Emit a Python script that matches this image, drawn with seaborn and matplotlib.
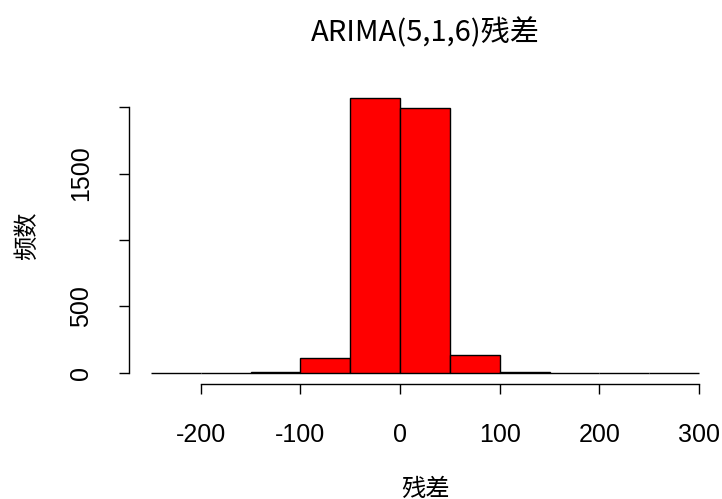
import matplotlib
matplotlib.use("Agg")
import matplotlib.pyplot as plt
import seaborn as sns
import numpy as np
import pandas as pd

bin_edges = [-250, -200, -150, -100, -50, 0, 50, 100, 150, 200, 250, 300]
counts = [1, 1, 6, 112, 2068, 1990, 138, 9, 1, 1, 1]
x_ticks = [-200, -100, 0, 100, 200, 300]
y_ticks = [0, 500, 1000, 1500, 2000]
y_ticklabels = ["0", "500", "", "1500", ""]

sns.set_style("white")
plt.rcParams['font.family'] = ['Liberation Sans', 'Noto Sans CJK SC', 'DejaVu Sans']
plt.rcParams['text.color'] = 'black'
plt.rcParams['axes.labelcolor'] = 'black'
plt.rcParams['xtick.color'] = 'black'
plt.rcParams['ytick.color'] = 'black'

centers = [(bin_edges[i] + bin_edges[i + 1]) / 2 for i in range(len(counts))]
df = pd.DataFrame({"resid": centers, "n": counts})

fig = plt.figure(figsize=(7.22, 4.99), dpi=100)
ax = fig.add_axes([129 / 722, (499 - 384) / 499, (721 - 129) / 722, (384 - 87) / 499])
sns.histplot(data=df, x="resid", weights="n", bins=bin_edges, color="#ff0000",
             edgecolor="black", linewidth=1.0, alpha=1, ax=ax)

ax.set_xlim(-272, 322)
ax.set_ylim(-83, 2151)
for s in ["top", "right"]:
    ax.spines[s].set_visible(False)
ax.spines["bottom"].set_bounds(-200, 300)
ax.spines["left"].set_bounds(0, 2000)
for s in ["bottom", "left"]:
    ax.spines[s].set_color("black")
    ax.spines[s].set_linewidth(1.0)

ax.set_xticks(x_ticks)
ax.set_xticklabels([str(v) for v in x_ticks], fontsize=18, color="black")
ax.set_yticks(y_ticks)
ax.set_yticklabels(y_ticklabels, fontsize=18, rotation=90, va="center", color="black")
ax.tick_params(axis="both", direction="out", length=7, width=1, color="black",
               bottom=True, left=True)
ax.tick_params(axis="x", pad=21)
ax.tick_params(axis="y", pad=19)

ax.set_xlabel("残差", fontsize=17.5, family=['Noto Sans CJK SC'], labelpad=21, color="black")
ax.set_ylabel("频数", fontsize=17.5, family=['Noto Sans CJK SC'], labelpad=21, color="black")
ax.set_title("ARIMA(5,1,6)残差", fontsize=21, family=['Noto Sans CJK SC', 'DejaVu Sans'],
             pad=33, color="black")

fig.savefig("out.png", dpi=100)
